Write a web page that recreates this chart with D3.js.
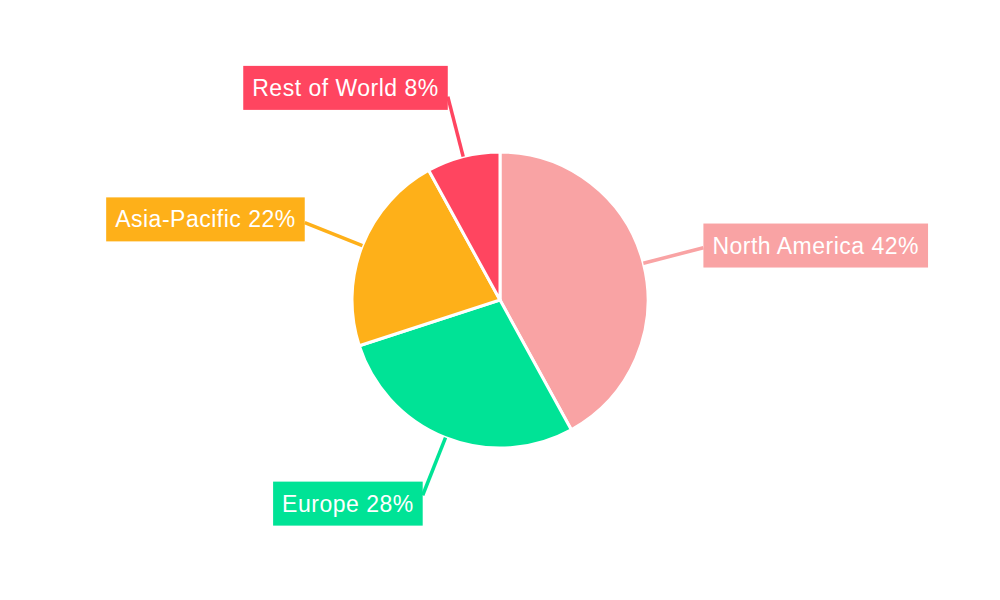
<!DOCTYPE html>
<html>
<head>
<meta charset="utf-8">
<script src="https://cdn.jsdelivr.net/npm/d3@7"></script>
<style>
  body { margin: 0; background: #fff; }
  svg text { font-family: "Liberation Sans", Arial, sans-serif; }
</style>
</head>
<body>
<svg width="1000" height="600"></svg>
<script>
var regions = ["North America", "Europe", "Asia-Pacific", "Rest of World"];
var shares = [42, 28, 22, 8];
var colors = ["#F9A3A4", "#00E396", "#FEB019", "#FF4560"];

var svg = d3.select("svg"),
    width = +svg.attr("width"),
    height = +svg.attr("height");

var radius = 148,
    labelRadius = 210;

var data = regions.map(function (r, i) {
    return { name: r, value: shares[i], color: colors[i] };
});

var pie = d3.pie()
    .sort(null)
    .value(function (d) { return d.value; });

var arc = d3.arc()
    .innerRadius(0)
    .outerRadius(radius);

var g = svg.append("g")
    .attr("transform", "translate(" + (width / 2) + "," + (height / 2) + ")");

var arcs = pie(data);

g.selectAll("path")
    .data(arcs)
    .enter().append("path")
    .attr("d", arc)
    .attr("fill", function (d) { return d.data.color; })
    .attr("stroke", "#fff")
    .attr("stroke-width", 3);

function point(a, r) {
    return [Math.sin(a) * r, -Math.cos(a) * r];
}

function mid(d) {
    return (d.startAngle + d.endAngle) / 2;
}

// connector lines
g.selectAll("line")
    .data(arcs)
    .enter().append("line")
    .attr("x1", function (d) { return point(mid(d), radius)[0]; })
    .attr("y1", function (d) { return point(mid(d), radius)[1]; })
    .attr("x2", function (d) { return point(mid(d), labelRadius)[0]; })
    .attr("y2", function (d) { return point(mid(d), labelRadius)[1]; })
    .attr("stroke", function (d) { return d.data.color; })
    .attr("stroke-width", 3.5);

// labels
var label = g.selectAll("g.label")
    .data(arcs)
    .enter().append("g")
    .attr("class", "label");

label.each(function (d) {
    var sel = d3.select(this);
    var a = mid(d);
    var p = point(a, labelRadius);
    var rect = sel.append("rect").attr("fill", d.data.color);
    var text = sel.append("text")
        .attr("fill", "#fff")
        .attr("font-size", "23px")
        .attr("letter-spacing", "0.5px")
        .attr("dy", "0.35em")
        .text(d.data.name + " " + d.data.value + "%");
    var w = text.node().getComputedTextLength() + 18,
        h = 44;
    var left = Math.sin(a) < 0;
    var x0 = left ? p[0] - w : p[0];
    var cy = p[1] - 9 * Math.cos(a);
    rect.attr("x", x0).attr("y", cy - h / 2).attr("width", w).attr("height", h);
    text.attr("x", x0 + 9).attr("y", cy);
});
</script>
</body>
</html>
